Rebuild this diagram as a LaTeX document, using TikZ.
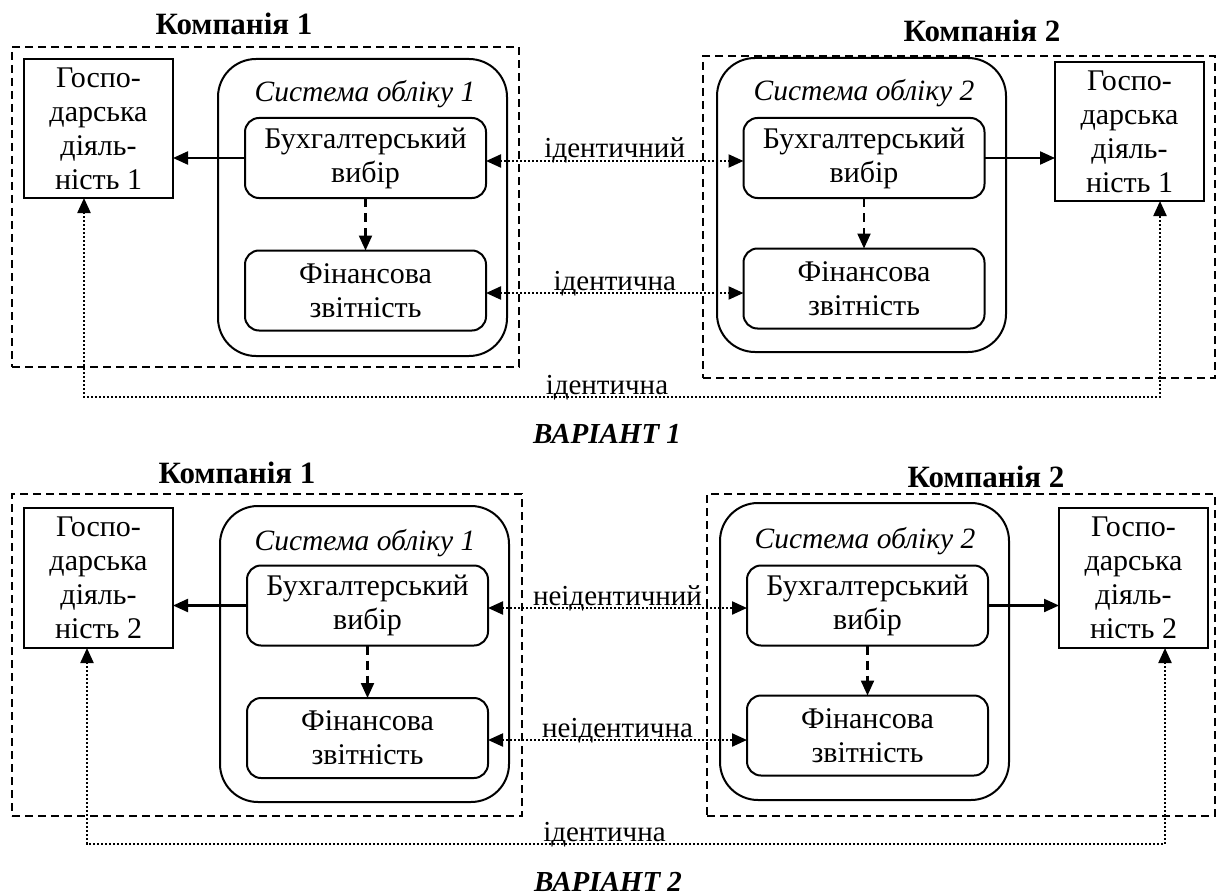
\documentclass[tikz,border=0pt]{standalone}
\usepackage{fontspec}
\setmainfont{Liberation Serif}
\usetikzlibrary{arrows.meta}
\usetikzlibrary{calc}

\tikzset{
  >={Triangle[length=15pt,width=13pt]},
  txt/.style={font=\fontsize{30}{34}\selectfont, align=center, inner sep=0pt, outer sep=0pt},
  company/.style={draw, dash pattern=on 8pt off 5pt, line width=1.7pt, inner sep=0pt, outer sep=0pt},
  activity/.style={draw, txt, line width=2pt, minimum width=149pt, minimum height=139pt},
  system/.style={draw, rounded corners=38pt, line width=2pt, minimum width=289pt,
    minimum height=297pt, inner sep=0pt, outer sep=0pt},
  stage/.style={draw, txt, rounded corners=14pt, line width=2pt, minimum width=241pt, minimum height=80pt},
  title/.style={txt, font=\fontsize{31}{34}\selectfont\bfseries, anchor=base},
  systitle/.style={txt, font=\fontsize{29.5}{34}\selectfont\itshape, anchor=base},
  variant/.style={txt, font=\fontsize{29}{34}\selectfont\bfseries\itshape, anchor=base},
  flow/.style={->, line width=2.2pt},
  derive/.style={->, line width=2.2pt, dash pattern=on 9pt off 6pt},
  link/.style={<->, line width=2.2pt, dash pattern=on 2pt off 2pt},
  lbl/.style={txt, font=\fontsize{29}{34}\selectfont, anchor=base, yshift=3pt}
}

\begin{document}
\begin{tikzpicture}[x=1pt, y=-1pt]

  \useasboundingbox (0,0) rectangle (1217,896);

  % ---------------- variant 1 ----------------
  % company frames and their names
  \node[company, minimum width=507pt, minimum height=320pt] (comp1a) at (265.5,207) {};
  \node[company, minimum width=512pt, minimum height=322pt] (comp2a) at (959,217) {};
  \node[title] (name1a) at (234,35) {Компанія 1};
  \node[title] (name2a) at (982,42) {Компанія 2};

  % business activity
  \node[activity] (act1a) at (98.5,128.5) {Госпо-\\дарська\\діяль-\\ність 1};
  \node[activity] (act2a) at (1129.5,131.5) {Госпо-\\дарська\\діяль-\\ність 1};

  % accounting systems
  \node[system] (sys1a) at (362.5,207.5) {};
  \node[system, minimum height=294pt] (sys2a) at (861.5,205) {};
  \node[systitle] (st1a) at (365,102) {Система обліку 1};
  \node[systitle] (st2a) at (864,101) {Система обліку 2};
  \node[stage] (ch1a) at (365.5,158) {Бухгалтерський\\вибір};
  \node[stage] (rep1a) at (365.5,290.5) {Фінансова\\звітність};
  \node[stage] (ch2a) at (864,158) {Бухгалтерський\\вибір};
  \node[stage] (rep2a) at (864,288.5) {Фінансова\\звітність};

  % connections
  \draw[flow] (ch1a.west) -- (ch1a.west -| act1a.east);
  \draw[flow] (ch2a.east) -- (ch2a.east -| act2a.west);
  \draw[derive] (ch1a.south) -- (rep1a.north);
  \draw[derive] (ch2a.south) -- (rep2a.north);
  \draw[link] ([yshift=-3pt]ch1a.east) -- node[lbl] {ідентичний} ([yshift=-3pt]ch2a.west);
  \draw[link] ([yshift=-2.5pt]rep1a.east) -- node[lbl] {ідентична} ([yshift=-2.5pt]rep1a.east -| rep2a.west);
  \draw[link] ([xshift=-14.5pt]act1a.south) -- ++(0,199)
    -| node[lbl, pos=0.243] {ідентична} ([xshift=30.5pt]act2a.south);

  \node[variant] (var1) at (607,443) {ВАРІАНТ 1};

  % ---------------- variant 2 ----------------
  % company frames and their names
  \node[company, minimum width=510pt, minimum height=322pt] (comp1b) at (267,655) {};
  \node[company, minimum width=508pt, minimum height=322pt] (comp2b) at (961,655) {};
  \node[title] (name1b) at (237,483) {Компанія 1};
  \node[title] (name2b) at (986,487) {Компанія 2};

  % business activity
  \node[activity, minimum height=140pt] (act1b) at (98.5,578) {Госпо-\\дарська\\діяль-\\ність 2};
  \node[activity, minimum height=140pt] (act2b) at (1133.5,578) {Госпо-\\дарська\\діяль-\\ність 2};

  % accounting systems
  \node[system, minimum height=296pt] (sys1b) at (364.5,654) {};
  \node[system] (sys2b) at (864.5,651.5) {};
  \node[systitle] (st1b) at (365,550) {Система обліку 1};
  \node[systitle] (st2b) at (865,548) {Система обліку 2};
  \node[stage] (ch1b) at (367.5,605.5) {Бухгалтерський\\вибір};
  \node[stage] (rep1b) at (367.5,738) {Фінансова\\звітність};
  \node[stage] (ch2b) at (867.5,605.5) {Бухгалтерський\\вибір};
  \node[stage] (rep2b) at (867.5,735.5) {Фінансова\\звітність};

  % connections
  \draw[flow] (ch1b.west) -- (ch1b.west -| act1b.east);
  \draw[flow] (ch2b.east) -- (ch2b.east -| act2b.west);
  \draw[derive] (ch1b.south) -- (rep1b.north);
  \draw[derive] (ch2b.south) -- (rep2b.north);
  \draw[link] ([yshift=-2.5pt]ch1b.east) -- node[lbl] {неідентичний} ([yshift=-2.5pt]ch2b.west);
  \draw[link] ([yshift=-2pt]rep1b.east) -- node[lbl] {неідентична} ([yshift=-2pt]rep1b.east -| rep2b.west);
  \draw[link] ([xshift=-11.5pt]act1b.south) -- ++(0,196)
    -| node[lbl, pos=0.24] {ідентична} ([xshift=31.5pt]act2b.south);

  \node[variant] (var2) at (608,891) {ВАРІАНТ 2};

\end{tikzpicture}
\end{document}
